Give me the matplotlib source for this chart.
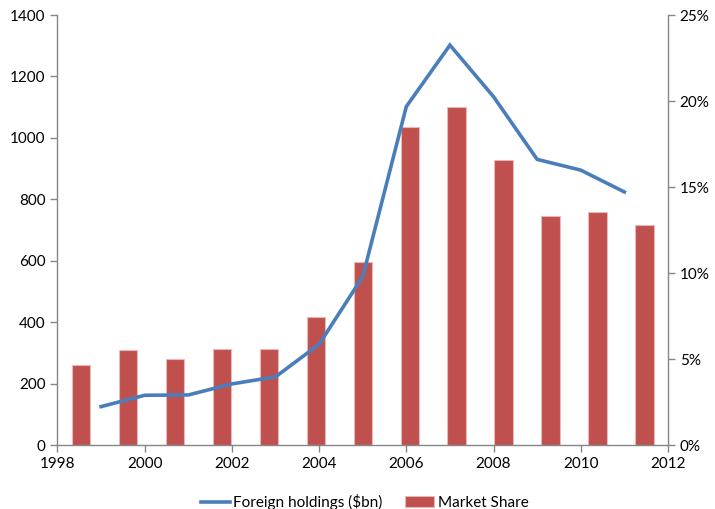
import numpy as np
import matplotlib
matplotlib.use("Agg")
import matplotlib.pyplot as plt
from matplotlib.ticker import FuncFormatter

plt.rcParams['font.family'] = ['Lato', 'DejaVu Sans']

# Foreign holdings ($bn), plotted against calendar years
line_years = [1999, 2000, 2001, 2002, 2003, 2004, 2005, 2006, 2007, 2008, 2009, 2010, 2011]
holdings = [125, 162, 163, 199, 222, 328, 548, 1102, 1302, 1134, 930, 895, 824]

# Market share (%), one bar per category spread over the full axis width
share = [4.65, 5.54, 5.0, 5.58, 5.56, 7.42, 10.66, 18.47, 19.65, 16.57, 13.31, 13.55, 12.79]

blue = '#4A7EBB'
red = '#C0504D'
grey = '#868686'
fs = 11

fig = plt.figure(figsize=(7.15, 5.09), dpi=100)
ax = fig.add_axes([0.0804, 0.1257, 0.8538, 0.8448])
ax2 = ax.twinx()
ax3 = ax2.twiny()

# bars live on their own category x-axis
n = len(share)
ax3.bar(np.arange(n), share, width=0.39, color=red, edgecolor='#E6B9B8', linewidth=0.8,
        label='Market Share')
ax3.set_xlim(-0.5, n - 0.5)
ax3.set_xticks([])
ax2.set_ylim(0, 25)
ax2.set_yticks(np.arange(0, 26, 5))
ax2.yaxis.set_major_formatter(FuncFormatter(lambda v, p: f'{v:.0f}%'))

ax.plot(line_years, holdings, color=blue, linewidth=2.6, label='Foreign holdings ($bn)',
        solid_joinstyle='miter')
ax.set_xlim(1998, 2012)
ax.set_ylim(0, 1400)
ax.set_xticks(range(1998, 2013, 2))
ax.set_yticks(range(0, 1401, 200))

# line on top of the bars
ax.set_zorder(ax3.zorder + 1)
ax.patch.set_visible(False)

for a in (ax, ax2, ax3):
    for s in a.spines.values():
        s.set_visible(False)
ax.spines['left'].set_visible(True)
ax.spines['bottom'].set_visible(True)
ax2.spines['right'].set_visible(True)
for s in (ax.spines['left'], ax.spines['bottom'], ax2.spines['right']):
    s.set_color(grey)
    s.set_linewidth(1.0)

ax.tick_params(axis='both', colors=grey, labelcolor='black', labelsize=fs, length=5, width=1)
ax2.tick_params(axis='y', colors=grey, labelcolor='black', labelsize=fs, length=5, width=1)
ax3.tick_params(axis='x', length=0)

h1, l1 = ax.get_legend_handles_labels()
h2, l2 = ax3.get_legend_handles_labels()
fig.legend(h1 + h2, l1 + l2, loc='center', bbox_to_anchor=(0.51, 0.014), ncol=2,
           frameon=False, fontsize=fs, handlelength=1.9, columnspacing=1.5, handletextpad=0.2)

fig.savefig('out.png', dpi=100)
